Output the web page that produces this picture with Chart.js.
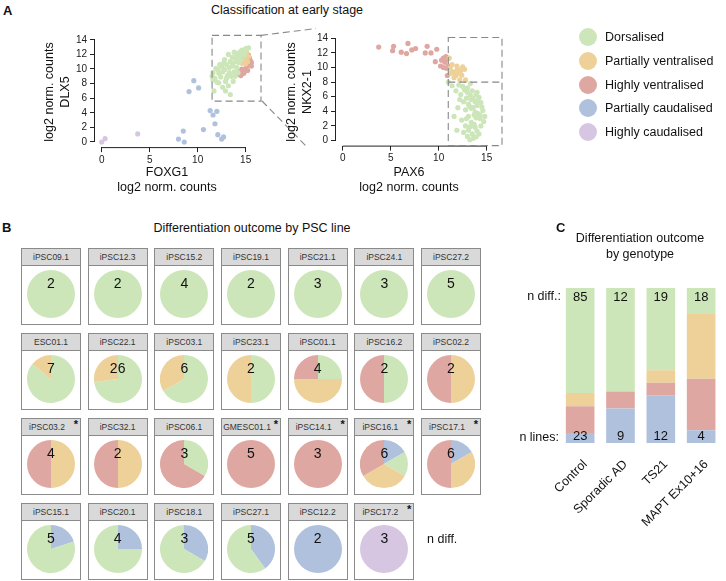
<!DOCTYPE html>
<html>
<head>
<meta charset="utf-8">
<script src="https://cdn.jsdelivr.net/npm/chart.js@4.4.1/dist/chart.umd.min.js"></script>
<style>
  body { margin: 0; background: #fff; font-family: "Liberation Sans", Arial, sans-serif; color: #111; }
  #page { position: relative; width: 726px; height: 581px; overflow: hidden; }
  .abs { position: absolute; }
  .panel { font-weight: bold; font-size: 13px; }
  .ctr { position: absolute; transform: translate(-50%, -50%); white-space: nowrap; text-align: center; }
  .title { font-size: 12.5px; }
  .ytitle { font-size: 12.5px; line-height: 16px; transform: translate(-50%, -50%) rotate(-90deg); }
  .xtitle { font-size: 12.5px; line-height: 15px; }
  .leg { position: absolute; left: 579px; font-size: 12.5px; height: 18px; line-height: 18px; }
  .leg i { position: absolute; left: 0; top: 0; width: 18px; height: 18px; border-radius: 50%; }
  .leg span { position: absolute; left: 26px; top: 0; white-space: nowrap; }
  .cell { position: absolute; width: 60px; height: 77px; }
  .cell .hd { position: absolute; left: 0; top: 0; width: 60px; height: 18px; box-sizing: border-box;
    background: #d9d9d9; border: 1px solid #8a8a8a; font-size: 8.5px; color: #333; text-align: center; line-height: 16px; }
  .cell .hd.star { padding-right: 8px; }
  .cell .hd b { position: absolute; right: 2px; top: -3px; font-size: 11px; color: #111; }
  .cell .bx { position: absolute; left: 0; top: 17px; width: 60px; height: 60px; box-sizing: border-box;
    background: #fff; border: 1px solid #8a8a8a; }
  .cell canvas { position: absolute; left: 6px; top: 22px; }
  .cell .n { position: absolute; left: 0; width: 60px; top: 27px; text-align: center; font-size: 14px; line-height: 16px; }
</style>
</head>
<body>
<div id="page">
  <div class="abs panel" style="left:3px;top:3px">A</div>
  <div class="ctr title" style="left:287px;top:10px">Classification at early stage</div>

  <canvas id="scLeft" class="abs" width="240" height="150" style="left:30px;top:22px"></canvas>
  <canvas id="scRight" class="abs" width="230" height="150" style="left:280px;top:22px"></canvas>
  <svg class="abs" style="left:0;top:0" width="726" height="200">
    <g stroke="#888" stroke-width="1.1" stroke-dasharray="7 4" fill="none">
      <line x1="261" y1="35.4" x2="316" y2="28.5"/>
      <line x1="262" y1="101" x2="306" y2="146"/>
    </g>
  </svg>

  <div class="ctr ytitle" style="left:57px;top:92px">log2 norm. counts<br>DLX5</div>
  <div class="ctr xtitle" style="left:167px;top:180px">FOXG1<br>log2 norm. counts</div>
  <div class="ctr ytitle" style="left:299px;top:92px">log2 norm. counts<br>NKX2-1</div>
  <div class="ctr xtitle" style="left:409px;top:180px">PAX6<br>log2 norm. counts</div>

  <div id="legend"></div>

  <div class="abs panel" style="left:2px;top:220px">B</div>
  <div class="ctr title" style="left:252px;top:228px">Differentiation outcome by PSC line</div>
  <div id="pies"></div>
  <div class="abs" style="left:427px;top:532px;font-size:12.5px">n diff.</div>

  <div class="abs panel" style="left:556px;top:220px">C</div>
  <div class="ctr title" style="left:640px;top:246px;line-height:16px">Differentiation outcome<br>by genotype</div>
  <div class="abs" style="right:165px;top:289px;font-size:12.5px">n diff.:</div>
  <div class="abs" style="right:167px;top:430px;font-size:12.5px">n lines:</div>
  <canvas id="barC" class="abs" width="226" height="301" style="left:500px;top:280px"></canvas>
</div>

<script>
  // class colours
  const classNames = ["Dorsalised", "Partially ventralised", "Highly ventralised", "Partially caudalised", "Highly caudalised"];
  const classColors = ["#cce6b9", "#edd198", "#dfa7a1", "#afc1dc", "#d7c6e2"];

  // panel A, FOXG1 (x) vs DLX5 (y)
  const leftDorsal = [[11.5,9.0],[11.6,8.5],[11.8,8.7],[11.7,7.0],[12.0,8.2],[12.2,9.4],[12.1,9.9],[12.4,8.9],[12.6,9.6],
    [12.5,10.3],[12.8,9.9],[12.9,8.3],[12.9,7.0],[13.2,7.7],[13.4,6.5],[13.1,9.1],[13.3,9.5],[13.0,10.6],[13.3,10.2],
    [13.5,9.0],[13.6,10.8],[13.7,10.4],[13.9,9.0],[13.8,9.6],[14.0,11.0],[14.2,9.5],[13.9,11.5],[14.1,11.7],[14.3,10.9],
    [14.0,12.1],[14.4,12.3],[14.5,12.0],[14.6,12.6],[14.8,12.5],[15.0,12.8],[15.3,12.9],[15.1,12.6],[14.3,11.4],[13.6,11.6],
    [13.4,11.0],[12.7,10.8],[12.3,10.6],[11.9,10.1],[12.2,8.1],[12.6,7.5],[13.0,8.7],[13.7,8.3],[14.1,10.2],[14.5,11.3],
    [13.8,12.3],[12.8,11.3],[11.6,9.5],[13.2,12.0],[14.9,11.9]];
  const leftPVent = [[14.5,12.1],[14.8,11.8],[15.0,11.5],[14.6,11.4],[15.1,12.2],[14.9,11.0],[14.4,11.6],[15.2,11.0],
    [14.7,12.4],[15.0,10.7],[14.6,10.8],[15.3,11.7]];
  const leftHVent = [[15.3,10.5],[15.6,10.4],[15.0,10.1],[14.6,10.0],[14.3,9.6],[14.8,9.4],[14.5,9.1],[15.2,9.8],
    [15.5,11.1],[15.4,11.5],[14.9,9.7],[15.3,11.9],[14.2,9.3],[15.6,10.9],[14.7,9.7]];
  const leftPCaud = [[9.6,8.4],[9.1,6.9],[10.1,7.4],[11.3,4.3],[12.0,4.2],[11.6,3.7],[11.8,2.5],[10.6,1.7],[8.5,1.5],
    [8.0,0.4],[8.6,0.0],[12.1,1.0],[12.7,0.7],[12.5,0.4]];
  const leftHCaud = [[0,0],[0.35,0.45],[3.75,1.1]];

  // panel A, PAX6 (x) vs NKX2-1 (y)
  const rightDorsal = [[11.0,8.0],[11.4,7.5],[11.8,6.8],[12.1,7.6],[12.5,7.4],[12.7,6.9],[12.3,6.3],[13.0,7.2],[13.5,6.8],
    [13.3,6.2],[12.9,5.8],[13.6,5.8],[13.9,6.3],[14.2,5.9],[13.8,5.3],[13.1,5.0],[14.0,4.8],[14.4,5.2],[13.4,4.4],
    [12.8,4.2],[13.8,3.9],[14.1,3.7],[14.6,4.1],[13.1,3.3],[13.9,3.1],[14.3,3.0],[12.4,2.8],[13.4,2.5],[14.7,2.6],
    [12.8,2.0],[13.8,1.8],[14.4,2.0],[13.1,1.4],[13.5,0.9],[13.0,0.55],[13.6,0.3],[13.25,0.1],[13.9,0.5],[14.2,0.9],
    [11.6,3.3],[11.9,1.4],[13.2,4.7],[13.6,4.5],[14.5,4.6],[12.6,5.3],[13.0,6.6],[14.0,6.6],[12.2,5.6],[13.7,3.5],
    [14.3,3.5],[12.9,3.0],[13.3,1.9],[14.0,1.3],[13.7,2.2],[12.6,1.1],[14.8,3.3],[13.4,5.6],[14.1,5.5],[12.0,4.5],[13.3,7.8]];
  const rightPVent = [[11.1,11.3],[11.9,10.2],[12.0,9.75],[11.5,9.4],[11.25,9.2],[11.7,9.3],[12.3,9.6],[12.7,9.75],
    [12.4,8.95],[11.6,8.6],[12.2,8.3],[12.8,8.3],[11.2,9.9],[12.0,9.2],[11.4,10.4],[11.8,8.9],[12.5,10.1],[11.9,9.6]];
  const rightHVent = [[3.75,12.8],[5.3,12.9],[5.2,12.3],[6.1,12.1],[6.8,13.3],[6.65,11.9],[7.2,12.4],[7.6,12.6],
    [8.8,12.9],[8.6,12.0],[9.2,12.0],[9.8,12.5],[9.65,10.8],[10.3,11.0],[10.5,11.3],[10.75,11.5],[10.65,10.7],
    [10.5,10.0],[10.8,9.9],[10.9,8.9],[11.0,10.2],[10.95,11.2],[10.2,10.2]];

  const xTicks = [0, 5, 10, 15];
  const yTicks = [0, 2, 4, 6, 8, 10, 12, 14];
  const leftGate = { x: [11.5, 16.6], y: [5.6, 14.6] };
  const rightGate = { x: [11.0, 16.6], y: [-0.7, 14.1], split: 8 };

  // panel B, differentiations per PSC line and class
  const pscLines = ["iPSC09.1","iPSC12.3","iPSC15.2","iPSC19.1","iPSC21.1","iPSC24.1","iPSC27.2",
    "ESC01.1","iPSC22.1","iPSC03.1","iPSC23.1","iPSC01.1","iPSC16.2","iPSC02.2",
    "iPSC03.2","iPSC32.1","iPSC06.1","GMESC01.1","iPSC14.1","iPSC16.1","iPSC17.1",
    "iPSC15.1","iPSC20.1","iPSC18.1","iPSC27.1","iPSC12.2","iPSC17.2"];
  const flagged = ["iPSC03.2","GMESC01.1","iPSC14.1","iPSC16.1","iPSC17.1","iPSC17.2"];
  const lineDorsal = [2,2,4,2,3,3,5, 6,19,4,1,1,1,0, 0,0,1,0,0,1,0, 4,3,2,3,0,0];
  const linePVent  = [0,0,0,0,0,0,0, 1,7,2,1,2,0,1, 2,1,0,0,0,2,2, 0,0,0,0,0,0];
  const lineHVent  = [0,0,0,0,0,0,0, 0,0,0,0,1,1,1, 2,1,2,5,3,2,3, 0,0,0,0,0,0];
  const linePCaud  = [0,0,0,0,0,0,0, 0,0,0,0,0,0,0, 0,0,0,0,0,1,1, 1,1,1,2,2,0];
  const lineHCaud  = [0,0,0,0,0,0,0, 0,0,0,0,0,0,0, 0,0,0,0,0,0,0, 0,0,0,0,0,3];

  // panel C, percent of differentiations by genotype
  const genotypes = ["Control", "Sporadic AD", "TS21", "MAPT Ex10+16"];
  const nDiff = [85, 12, 19, 18];
  const nLines = [23, 9, 12, 4];
  const pctPCaud = [6.5, 22.2, 30.8, 8.2];
  const pctHVent = [17.2, 11.1, 8.0, 33.3];
  const pctPVent = [8.6, 0, 8.2, 41.7];
  const pctDorsal = [67.7, 66.7, 53.0, 16.8];

  Chart.defaults.font.family = '"Liberation Sans", Arial, sans-serif';
  Chart.defaults.color = "#222";

  // legend
  const legY = [28, 52, 76, 99, 123];
  document.getElementById("legend").innerHTML = classNames
    .map((n, i) => `<div class="leg" style="top:${legY[i]}px"><i style="background:${classColors[i]}"></i><span>${n}</span></div>`)
    .join("");

  // R style axes and the dashed gates
  const rAxes = {
    id: "rAxes",
    afterDatasetsDraw(chart, args, opts) {
      const { ctx, chartArea: a } = chart;
      const x = chart.scales.x, y = chart.scales.y;
      ctx.save();
      ctx.strokeStyle = "#222";
      ctx.lineWidth = 1;
      ctx.beginPath();
      ctx.moveTo(x.getPixelForValue(xTicks[0]), a.bottom + 0.5);
      ctx.lineTo(x.getPixelForValue(xTicks[xTicks.length - 1]), a.bottom + 0.5);
      ctx.moveTo(a.left - 0.5, y.getPixelForValue(yTicks[0]));
      ctx.lineTo(a.left - 0.5, y.getPixelForValue(yTicks[yTicks.length - 1]));
      ctx.stroke();

      const g = opts.gate;
      const x1 = x.getPixelForValue(g.x[0]), x2 = x.getPixelForValue(g.x[1]);
      const y1 = y.getPixelForValue(g.y[0]), y2 = y.getPixelForValue(g.y[1]);
      ctx.setLineDash([7, 4]);
      ctx.strokeStyle = "#888";
      ctx.lineWidth = 1.1;
      ctx.strokeRect(x1, y2, x2 - x1, y1 - y2);
      if (g.split !== undefined) {
        const ys = y.getPixelForValue(g.split);
        ctx.beginPath();
        ctx.moveTo(x1, ys);
        ctx.lineTo(x2, ys);
        ctx.stroke();
      }
      ctx.restore();
    },
  };

  function scatter(id, sets, yWidth, xHeight, pad, gate) {
    return new Chart(document.getElementById(id), {
      type: "scatter",
      data: {
        datasets: sets.map(([pts, col]) => ({
          data: pts.map(([x, y]) => ({ x, y })),
          backgroundColor: col,
          borderWidth: 0,
          pointRadius: 2.6,
        })),
      },
      options: {
        responsive: false,
        animation: false,
        devicePixelRatio: 1,
        layout: { padding: pad },
        plugins: { legend: { display: false }, tooltip: { enabled: false }, rAxes: { gate } },
        scales: {
          x: {
            min: -0.7, max: 16.6,
            afterBuildTicks: (s) => { s.ticks = xTicks.map((v) => ({ value: v })); },
            afterFit: (s) => { s.height = xHeight; },
            grid: { drawOnChartArea: false, tickLength: 5, color: "#222" },
            border: { display: false },
            ticks: { autoSkip: false, maxRotation: 0, font: { size: 10 }, padding: 2 },
          },
          y: {
            min: -0.7, max: 14.6,
            afterBuildTicks: (s) => { s.ticks = yTicks.map((v) => ({ value: v })); },
            afterFit: (s) => { s.width = yWidth; },
            grid: { drawOnChartArea: false, tickLength: 5, color: "#222" },
            border: { display: false },
            ticks: { autoSkip: false, font: { size: 10 }, padding: 3 },
          },
        },
      },
      plugins: [rAxes],
    });
  }

  scatter("scLeft", [
    [leftDorsal, classColors[0]], [leftHCaud, classColors[4]], [leftPCaud, classColors[3]],
    [leftPVent, classColors[1]], [leftHVent, classColors[2]],
  ], 65, 24.9, { top: 13.4, right: 9 }, leftGate);

  scatter("scRight", [
    [rightDorsal, classColors[0]], [rightPVent, classColors[1]], [rightHVent, classColors[2]],
  ], 56, 26.4, { top: 11.9, right: 8 }, rightGate);

  // panel B pies
  const pies = document.getElementById("pies");
  pscLines.forEach((name, i) => {
    const row = Math.floor(i / 7), col = i % 7;
    const cell = document.createElement("div");
    cell.className = "cell";
    cell.style.left = (21 + col * 66.67) + "px";
    cell.style.top = (248 + row * 85) + "px";
    const counts = [linePCaud[i], lineDorsal[i], linePVent[i], lineHVent[i], lineHCaud[i]];
    const total = counts.reduce((s, v) => s + v, 0);
    const star = flagged.includes(name);
    cell.innerHTML = `<div class="hd${star ? " star" : ""}">${name}${star ? "<b>*</b>" : ""}</div>
      <div class="bx"></div><canvas width="48" height="48"></canvas><div class="n">${total}</div>`;
    pies.appendChild(cell);
    new Chart(cell.querySelector("canvas"), {
      type: "pie",
      data: {
        labels: ["Partially caudalised", "Dorsalised", "Partially ventralised", "Highly ventralised", "Highly caudalised"],
        datasets: [{
          data: counts,
          backgroundColor: [classColors[3], classColors[0], classColors[1], classColors[2], classColors[4]],
          borderWidth: 0, hoverOffset: 0, offset: 0,
        }],
      },
      options: {
        responsive: false, animation: false, devicePixelRatio: 1,
        plugins: { legend: { display: false }, tooltip: { enabled: false } },
      },
    });
  });

  // panel C stacked bars
  const barText = {
    id: "barText",
    afterDatasetsDraw(chart) {
      const { ctx } = chart;
      const x = chart.scales.x, y = chart.scales.y;
      ctx.save();
      ctx.font = '13px "Liberation Sans", Arial, sans-serif';
      ctx.fillStyle = "#111";
      ctx.textAlign = "center";
      ctx.textBaseline = "middle";
      genotypes.forEach((g, i) => {
        const px = x.getPixelForValue(i);
        ctx.fillText(String(nDiff[i]), px, y.getPixelForValue(100) + 9);
        ctx.fillText(String(nLines[i]), px, y.getPixelForValue(0) - 7);
      });
      ctx.restore();
    },
  };

  new Chart(document.getElementById("barC"), {
    type: "bar",
    data: {
      labels: genotypes,
      datasets: [
        { label: "Partially caudalised", data: pctPCaud, backgroundColor: classColors[3] },
        { label: "Highly ventralised", data: pctHVent, backgroundColor: classColors[2] },
        { label: "Partially ventralised", data: pctPVent, backgroundColor: classColors[1] },
        { label: "Dorsalised", data: pctDorsal, backgroundColor: classColors[0] },
      ],
    },
    options: {
      responsive: false, animation: false, devicePixelRatio: 1,
      layout: { padding: { left: 60, right: 2, top: 8 } },
      datasets: { bar: { categoryPercentage: 1, barPercentage: 0.71, borderWidth: 0 } },
      plugins: { legend: { display: false }, tooltip: { enabled: false } },
      scales: {
        x: {
          stacked: true,
          afterFit: (s) => { s.height = 138; },
          grid: { display: false, drawTicks: false },
          border: { display: false },
          ticks: { autoSkip: false, minRotation: 45, maxRotation: 45, padding: 14, labelOffset: 5, color: "#111", font: { size: 12.5 } },
        },
        y: { stacked: true, display: false, min: 0, max: 100 },
      },
    },
    plugins: [barText],
  });
</script>
</body>
</html>
